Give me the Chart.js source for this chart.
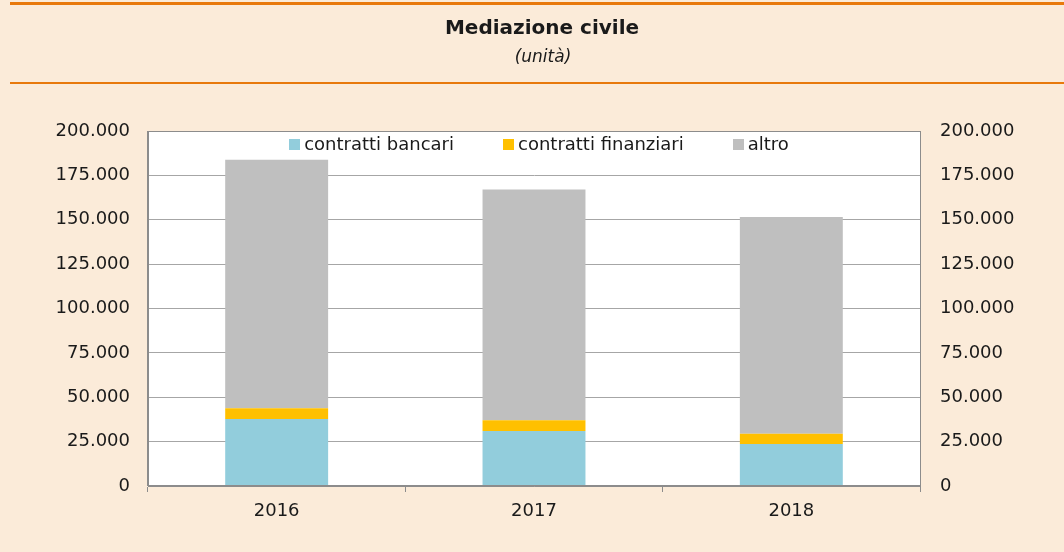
<!DOCTYPE html>
<html><head><meta charset="utf-8">
<script src="https://cdn.jsdelivr.net/npm/chart.js@4/dist/chart.umd.min.js"></script>
<style>html,body{margin:0;padding:0;background:#FBEBD9;}#wrap{position:relative;width:1064px;height:552px;}</style>
</head><body><div id="wrap"><canvas id="c" width="1064" height="552"></canvas></div>
<script>
const categories = ['2016', '2017', '2018'];
const bancari = [37700, 31000, 23700];
const finanziari = [6100, 6000, 5800];
const altro = [140000, 130000, 122000];
const seriesNames = ['contratti bancari', 'contratti finanziari', 'altro'];
const yTicks = [0, 25000, 50000, 75000, 100000, 125000, 150000, 175000, 200000];
const titleText = 'Mediazione civile';
const subtitleText = '(unità)';

const FONT = "'DejaVu Sans', 'Liberation Sans', Arial, sans-serif";
const fmt = v => v === 0 ? '0' : v.toLocaleString('de-DE');

const decor = {
  id: 'decor',
  beforeDraw(chart) {
    const ctx = chart.ctx;
    ctx.save();
    ctx.fillStyle = '#FBEBD9';
    ctx.fillRect(0, 0, chart.width, chart.height);
    const a = chart.chartArea;
    ctx.fillStyle = '#FFFFFF';
    ctx.fillRect(a.left, a.top, a.right - a.left, a.bottom - a.top);
    ctx.strokeStyle = '#E8790C';
    ctx.lineWidth = 3;
    ctx.beginPath(); ctx.moveTo(10, 3.5); ctx.lineTo(1064, 3.5); ctx.stroke();
    ctx.lineWidth = 2;
    ctx.beginPath(); ctx.moveTo(10, 83); ctx.lineTo(1064, 83); ctx.stroke();
    ctx.fillStyle = '#1a1a1a';
    ctx.textAlign = 'center';
    ctx.textBaseline = 'middle';
    ctx.font = "bold 20px " + FONT;
    ctx.fillText(titleText, 542, 29);
    ctx.font = "italic 17px " + FONT;
    ctx.fillText(subtitleText, 543, 58);
    ctx.restore();
  },
  afterDraw(chart) {
    const ctx = chart.ctx, a = chart.chartArea;
    ctx.save();
    ctx.strokeStyle = '#8C8C8C';
    ctx.lineWidth = 1;
    ctx.strokeRect(Math.round(a.left) - 0.5, Math.round(a.top) + 0.5, Math.round(a.right - a.left) + 1, Math.round(a.bottom - a.top) - 1);
    // legend inside plot area, horizontal
    ctx.font = "18px " + FONT;
    ctx.textBaseline = 'middle';
    ctx.textAlign = 'left';
    const box = 11, gapText = 4, gapItem = 49;
    const items = chart.data.datasets.map(d => ({ label: d.label, color: d.backgroundColor, w: box + gapText + ctx.measureText(d.label).width }));
    const total = items.reduce((s, it) => s + it.w, 0) + gapItem * (items.length - 1);
    let x = (a.left + a.right) / 2 + 5 - total / 2;
    const cy = 145;
    items.forEach(it => {
      ctx.fillStyle = it.color;
      ctx.fillRect(Math.round(x), cy - 6, box, box);
      ctx.fillStyle = '#1a1a1a';
      ctx.fillText(it.label, x + box + gapText, cy);
      x += it.w + gapItem;
    });
    ctx.restore();
  }
};

new Chart(document.getElementById('c'), {
  type: 'bar',
  data: {
    labels: categories,
    datasets: [
      { label: seriesNames[0], data: bancari, backgroundColor: '#92CDDC', yAxisID: 'y' },
      { label: seriesNames[1], data: finanziari, backgroundColor: '#FFC000', yAxisID: 'y' },
      { label: seriesNames[2], data: altro, backgroundColor: '#BFBFBF', yAxisID: 'y' }
    ]
  },
  options: {
    responsive: false,
    animation: false,
    devicePixelRatio: 1,
    layout: { padding: { top: 131, left: 0, right: 0, bottom: 0 } },
    datasets: { bar: { categoryPercentage: 1.0, barPercentage: 0.4, borderWidth: 0 } },
    plugins: {
      legend: { display: false },
      tooltip: { enabled: false },
      title: { display: false }
    },
    scales: {
      x: {
        stacked: true,
        offset: true,
        grid: { display: true, offset: true, drawOnChartArea: false, tickLength: 6, color: '#8C8C8C' },
        border: { display: true, color: '#8C8C8C' },
        ticks: { font: { family: FONT, size: 18 }, color: '#1a1a1a', padding: 9 },
        afterFit(s) { s.height = 552 - 486; }
      },
      y: {
        stacked: true,
        position: 'left',
        min: 0, max: 200000,
        afterBuildTicks(s) { s.ticks = yTicks.map(v => ({ value: v })); },
        grid: { color: '#A6A6A6', drawTicks: false, lineWidth: 1 },
        border: { display: true, color: '#8C8C8C' },
        ticks: { font: { family: FONT, size: 18 }, color: '#1a1a1a', padding: 18, callback: v => fmt(v) },
        afterFit(s) { s.width = 148; }
      },
      y2: {
        position: 'right',
        min: 0, max: 200000,
        afterBuildTicks(s) { s.ticks = yTicks.map(v => ({ value: v })); },
        grid: { drawOnChartArea: false, drawTicks: false },
        border: { display: true, color: '#8C8C8C' },
        ticks: { font: { family: FONT, size: 18 }, color: '#1a1a1a', padding: 20, callback: v => fmt(v) },
        afterFit(s) { s.width = 1064 - 920; }
      }
    }
  },
  plugins: [decor]
});
</script></body></html>
